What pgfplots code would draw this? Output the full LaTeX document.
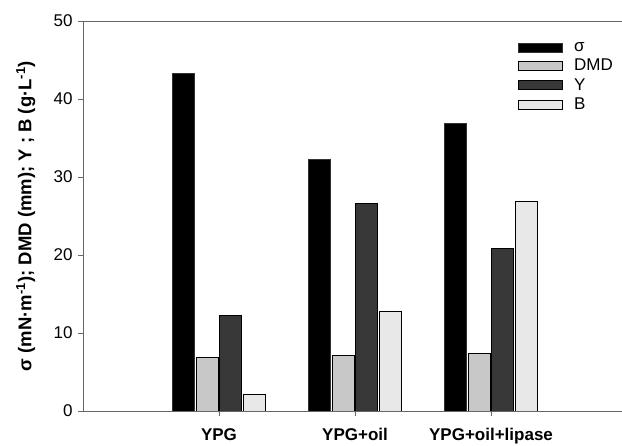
\documentclass[border=0pt]{standalone}
\usepackage{pgfplots}
\pgfplotsset{compat=1.18}
\usepackage{fontspec}
\setmainfont{Liberation Sans}
\definecolor{cDMD}{HTML}{C8C8C8}
\definecolor{cY}{HTML}{383838}
\definecolor{cB}{HTML}{E8E8E8}
\begin{document}
\begin{tikzpicture}
\useasboundingbox (-83pt,-35pt) rectangle (539pt,411pt);
\begin{axis}[
  scale only axis,
  width=539pt, height=390pt,
  xmin=0, xmax=3.963,
  ymin=0, ymax=50,
  axis x line*=bottom,
  axis y line*=left,
  axis line style={line width=0.8pt, draw=black!60},
  xtick={1,2,3},
  xticklabels={YPG, YPG+oil, YPG+oil+lipase},
  xtick pos=bottom,
  ytick={0,10,20,30,40,50},
  tick align=outside,
  major tick length=5pt,
  tick style={line width=0.8pt, black!60},
  /pgf/number format/assume math mode=true,
  yticklabel style={font=\fontsize{17}{20}\selectfont, xshift=-2pt},
  xticklabel style={font=\fontsize{17}{20}\selectfont\bfseries, yshift=-9pt},
  ylabel={σ (mN·m\textsuperscript{-1}); DMD (mm); Y ; B (g·L\textsuperscript{-1})},
  ylabel style={font=\fontsize{18.5}{21}\selectfont\bfseries, at={(axis description cs:-0.106,0.5)}, anchor=center},
  ybar=1.6pt,
  bar width=22pt,
  legend style={at={(0.807,0.951)}, anchor=north west, draw=none, fill=none,
    font=\fontsize{17}{20}\selectfont, row sep=2.3pt, inner sep=0pt,
    cells={anchor=west}},
  legend image code/.code={\draw[#1, line width=0.9pt] (0pt,-4.5pt) rectangle (44pt,4.5pt);},
]
\addplot[fill=black, draw=black!80, line width=0.6pt] coordinates {(1,43.3) (2,32.3) (3,36.9)};
\addlegendentry{\hspace*{9pt}σ}
\addplot[fill=cDMD, draw=black, line width=0.9pt] coordinates {(1,6.9) (2,7.1) (3,7.4)};
\addlegendentry{\hspace*{9pt}DMD}
\addplot[fill=cY, draw=black, line width=0.9pt] coordinates {(1,12.2) (2,26.6) (3,20.8)};
\addlegendentry{\hspace*{9pt}Y}
\addplot[fill=cB, draw=black, line width=0.9pt] coordinates {(1,2.1) (2,12.7) (3,26.9)};
\addlegendentry{\hspace*{9pt}B}
\draw[line width=0.8pt, black!60] (rel axis cs:0,1) -- (rel axis cs:1,1);
\end{axis}
\end{tikzpicture}
\end{document}
